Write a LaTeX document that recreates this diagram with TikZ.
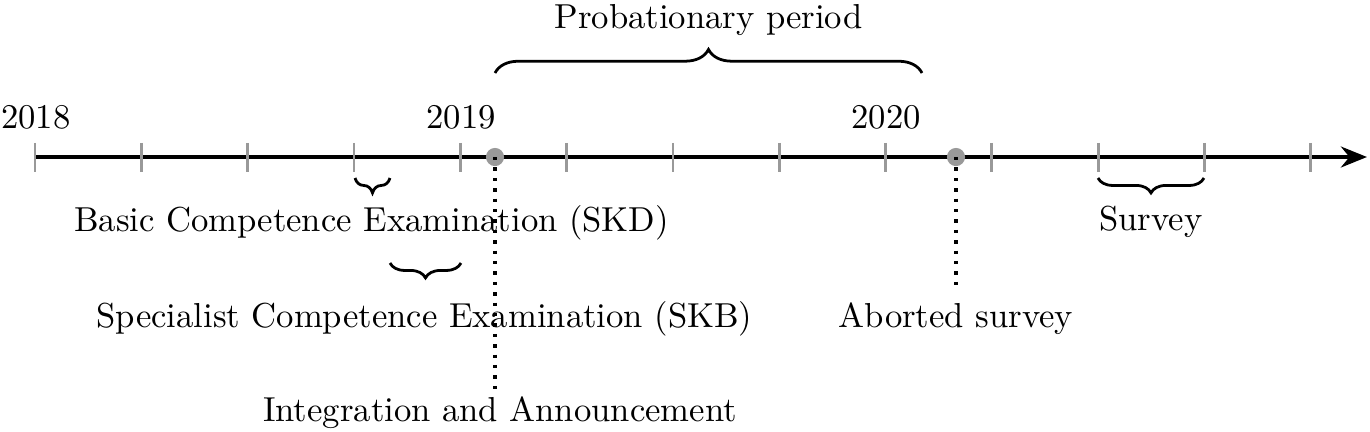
\documentclass[tikz,border=0pt]{standalone}
\usetikzlibrary{arrows.meta,decorations.pathreplacing}
\begin{document}
\begin{tikzpicture}[x=0.2885pt,y=-0.2885pt,
  tickline/.style={draw=black!40, line width=0.85pt},
  axisline/.style={line width=1.25pt, -{Stealth[length=7.5pt,width=6pt]}},
  lbl/.style={anchor=base, inner sep=0pt, font=\fontsize{10}{12}\selectfont},
  evt/.style={circle, fill=black!40, inner sep=0pt, minimum size=5.25pt},
  brc/.style={decorate, decoration={brace, amplitude=4.3pt}, line width=0.8pt},
  guide/.style={dotted, line width=1pt}]
\useasboundingbox (0,0) rectangle (1370,431);
% axis
\foreach \i in {0,...,12} { \coordinate (t\i) at ({35+\i*106.33},157); }
\coordinate (axend) at (1367,157);
\draw[axisline] (t0) -- (axend);
\foreach \i in {0,...,12} { \draw[tickline] ([yshift=4.1pt]t\i) -- ([yshift=-4.3pt]t\i); }
% years
\node[lbl] (y2018) at (36,128) {2018};
\node[lbl] (y2019) at (461,128) {2019};
\node[lbl] (y2020) at (886,128) {2020};
% events
\node[evt] (ia) at (495,157) {};
\node[evt] (ab) at (956,157) {};
\coordinate (iaend) at (495,393);
\coordinate (abend) at (956,288);
\draw[guide] (ia.center) -- (iaend);
\draw[guide] (ab.center) -- (abend);
\node[lbl] (ialbl) at (500,421) {Integration and Announcement};
\node[lbl] (ablbl) at (956,327) {Aborted survey};
% probationary brace
\coordinate (pa) at (495,73);
\coordinate (pb) at (922,73);
\draw[brc, decoration={amplitude=6.8pt}] (pa) -- (pb);
\node[lbl] (prob) at (708.5,28) {Probationary period};
% SKD
\coordinate (ka) at (355,178);
\coordinate (kb) at (390,178);
\draw[brc, decoration={mirror}] (ka) -- (kb);
\node[lbl] (skd) at (371.5,231) {Basic Competence Examination (SKD)};
% SKB
\coordinate (ba) at (390,263);
\coordinate (bb) at (461,263);
\draw[brc, decoration={mirror}] (ba) -- (bb);
\node[lbl] (skb) at (424.5,327) {Specialist Competence Examination (SKB)};
% Survey
\coordinate (sa) at (1098,178);
\coordinate (sb) at (1204,178);
\draw[brc, decoration={mirror}] (sa) -- (sb);
\node[lbl] (sv) at (1151,230) {Survey};
\end{tikzpicture}
\end{document}
